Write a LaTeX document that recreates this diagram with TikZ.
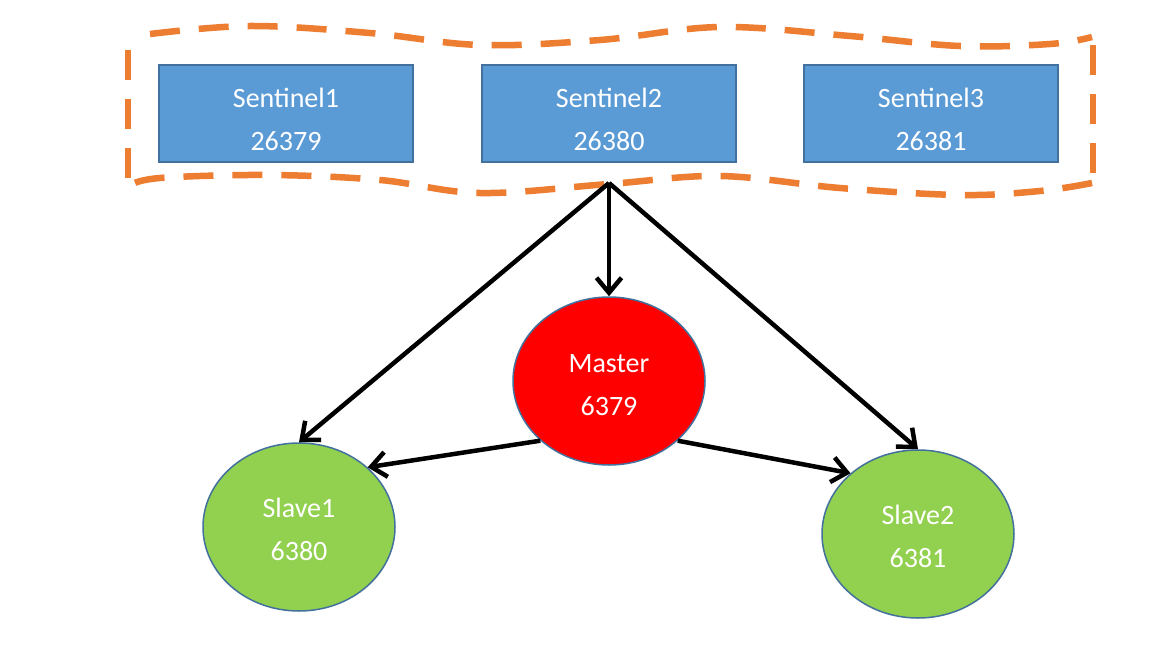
\documentclass[tikz,border=0pt]{standalone}
\usepackage{fontspec}
\setmainfont{Carlito}
\usetikzlibrary{arrows.meta,shapes.geometric}
\definecolor{sentfill}{HTML}{5B9BD5}
\definecolor{sentdraw}{HTML}{41719C}
\definecolor{dashorange}{HTML}{ED7D31}
\definecolor{slavegreen}{HTML}{92D050}
\newcommand{\toppad}[1]{\rule{0pt}{#1}}
\tikzset{
  sentbox/.style={draw=sentdraw, line width=2pt, fill=sentfill, minimum width=254pt, minimum height=97pt, inner sep=0pt, align=center, text=white, font=\fontsize{28}{43}\selectfont},
  dbnode/.style={ellipse, draw=sentdraw, line width=1.5pt, minimum width=192pt, minimum height=168pt, inner sep=0pt, align=center, text=white, font=\fontsize{28}{43}\selectfont},
  conn/.style={line width=4.5pt, -{Straight Barb[length=15pt,width=25pt,line width=4.5pt]}},
  grp/.style={draw=dashorange, line width=6.5pt, dash pattern=on 30pt off 19pt}
}
\begin{document}
\begin{tikzpicture}[x=1pt,y=-1pt]
\useasboundingbox (0,0) rectangle (1170,645);
\fill[white] (0,0) rectangle (1170,645);
% group outline
\draw[grp] plot[smooth, tension=0.6] coordinates {(150,34) (250,26) (370,33) (480,45) (600,40) (720,27) (850,36) (960,46) (1050,44) (1092,37)};
\draw[grp] (1093,45) -- (1093,175);
\draw[grp] plot[smooth, tension=0.6] coordinates {(1092,183) (1040,191) (960,195) (840,188) (720,176) (609,184) (480,193) (380,180) (270,175) (160,178) (128,186)};
\draw[grp] (128,178) -- (128,38);
% sentinels
\node[sentbox] (s1) at (286,113) {\toppad{32pt}Sentinel1\\26379};
\node[sentbox] (s2) at (609,113) {\toppad{32pt}Sentinel2\\26380};
\node[sentbox] (s3) at (931,113) {\toppad{32pt}Sentinel3\\26381};
% databases
\node[dbnode, fill=red] (master) at (609,381) {\toppad{27pt}Master\\6379};
\node[dbnode, fill=slavegreen] (slave1) at (299,527) {\toppad{25pt}Slave1\\6380};
\node[dbnode, fill=slavegreen] (slave2) at (918,534) {\toppad{25pt}Slave2\\6381};
% connectors
\coordinate (apex) at (609,183);
\draw[conn] (apex) -- (master.north);
\draw[conn] (apex) -- (slave1.north);
\draw[conn] (apex) -- (slave2.north);
\draw[conn] (master.221) -- (slave1.41);
\draw[conn] (master.319) -- (slave2.138);
\end{tikzpicture}
\end{document}
